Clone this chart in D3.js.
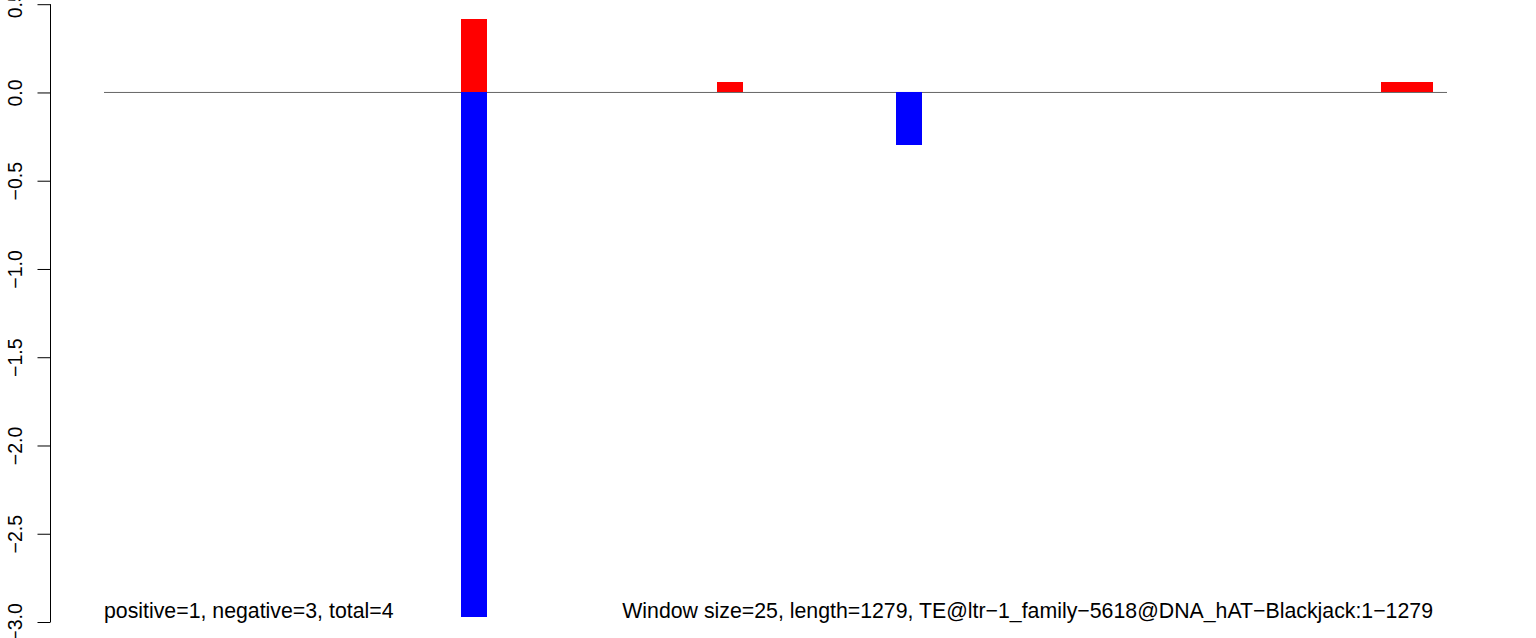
<!DOCTYPE html>
<html>
<head>
<meta charset="utf-8">
<script src="https://cdn.jsdelivr.net/npm/d3@7"></script>
<style>
html,body{margin:0;padding:0;background:#fff;}
svg{display:block;}
</style>
</head>
<body>
<svg id="chart" width="1536" height="638"></svg>
<script>
// Data
const seqLength = 1279;
const windowSize = 25;
const posStarts = [340, 584, 1216, 1241];
const posValues = [0.415, 0.058, 0.058, 0.058];
const negStarts = [340, 754];
const negValues = [-2.97, -0.30];
const yTicks = [-3.0, -2.5, -2.0, -1.5, -1.0, -0.5, 0.0, 0.5];
const leftLabel = "positive=1, negative=3, total=4";
const rightLabel = "Window size=25, length=1279, TE@ltr\u22121_family\u22125618@DNA_hAT\u2212Blackjack:1\u22121279";

const svg = d3.select("#chart");
const font = "'Liberation Sans', Arial, sans-serif";

const x = d3.scaleLinear().domain([0, seqLength]).range([104, 1447]);
const y = d3.scaleLinear().domain([-3, 0.5]).range([622, 4.2]);

// zero line
svg.append("line")
  .attr("x1", x(0)).attr("x2", x(seqLength))
  .attr("y1", y(0)).attr("y2", y(0))
  .attr("stroke", "#666").attr("stroke-width", 1);

const bw = x(windowSize) - x(0);

svg.append("g").selectAll("rect")
  .data(posStarts.map((s, i) => ({s, v: posValues[i]})))
  .join("rect")
  .attr("x", d => x(d.s))
  .attr("width", bw)
  .attr("y", d => y(d.v))
  .attr("height", d => y(0) - y(d.v))
  .attr("fill", "#ff0000")
  .attr("shape-rendering", "crispEdges");

svg.append("g").selectAll("rect")
  .data(negStarts.map((s, i) => ({s, v: negValues[i]})))
  .join("rect")
  .attr("x", d => x(d.s))
  .attr("width", bw)
  .attr("y", y(0))
  .attr("height", d => y(d.v) - y(0))
  .attr("fill", "#0000ff")
  .attr("shape-rendering", "crispEdges");

// y axis
const yAxis = d3.axisLeft(y)
  .tickValues(yTicks)
  .tickSize(13)
  .tickPadding(0)
  .tickFormat(d => d3.format(".1f")(d).replace("-", "\u2212"));

const ga = svg.append("g")
  .attr("transform", "translate(50.5,0)")
  .call(yAxis);
ga.select(".domain").attr("stroke", "#000").attr("stroke-width", 1)
  .attr("d", `M0,${y(-3)}V${y(0.5)}`);
ga.selectAll(".tick line").attr("stroke", "#000");
ga.selectAll(".tick text")
  .attr("font-family", font)
  .attr("font-size", 19.5)
  .attr("fill", "#000")
  .attr("x", null).attr("dy", null)
  .attr("text-anchor", "middle")
  .attr("transform", "translate(-28.5,0) rotate(-90)");

svg.append("text")
  .attr("x", 104).attr("y", 618)
  .attr("font-family", font).attr("font-size", 21.3)
  .attr("fill", "#000")
  .text(leftLabel);

svg.append("text")
  .attr("x", 1433).attr("y", 618)
  .attr("text-anchor", "end")
  .attr("font-family", font).attr("font-size", 21.3)
  .attr("fill", "#000")
  .text(rightLabel);
</script>
</body>
</html>
